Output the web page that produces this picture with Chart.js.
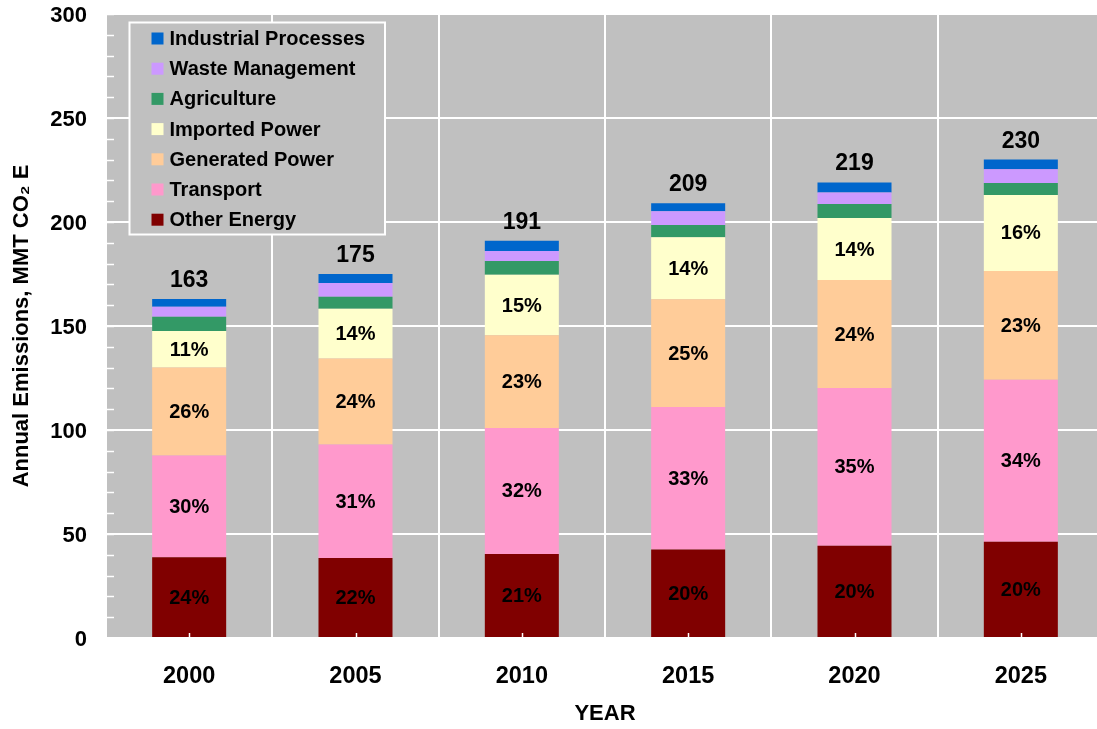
<!DOCTYPE html>
<html>
<head>
<meta charset="utf-8">
<title>Annual Emissions</title>
<script src="https://cdn.jsdelivr.net/npm/chart.js@4.4.1/dist/chart.umd.min.js"></script>
<style>
  html, body { margin: 0; padding: 0; background: #fff; overflow: hidden; }
  #wrap { width: 1104px; height: 729px; position: relative; }
</style>
</head>
<body>
<div id="wrap"><canvas id="chart"></canvas></div>
<script>
// Data (MMT CO2 E)
const years = ['2000', '2005', '2010', '2015', '2020', '2025'];
const otherEnergy         = [38.8, 38.5, 40.4, 42.5, 44.3, 46.3];
const transport           = [49.0, 54.5, 60.6, 68.5, 75.9, 77.8];
const generatedPower      = [42.2, 41.4, 44.5, 51.9, 51.9, 52.4];
const importedPower       = [17.6, 23.9, 29.1, 29.8, 29.8, 36.5];
const agriculture         = [6.8, 5.8, 6.7, 5.8, 6.7, 5.8];
const wasteManagement     = [4.8, 6.6, 4.8, 6.7, 5.6, 6.6];
const industrialProcesses = [3.8, 4.3, 4.9, 3.8, 4.8, 4.6];

const seriesNames  = ['Other Energy', 'Transport', 'Generated Power', 'Imported Power',
                      'Agriculture', 'Waste Management', 'Industrial Processes'];
const seriesValues = [otherEnergy, transport, generatedPower, importedPower,
                      agriculture, wasteManagement, industrialProcesses];
const seriesColors = ['#800000', '#FF99CC', '#FFCC99', '#FFFFCC', '#339966', '#CC99FF', '#0066CC'];

// only the four biggest sectors carry a percent label
const pctSeriesCount = 4;

const FONT = '"Liberation Sans", Arial, Helvetica, sans-serif';
Chart.defaults.font.family = FONT;
Chart.defaults.color = '#000';

const totals = years.map((_, i) => seriesValues.reduce((s, arr) => s + arr[i], 0));

// gray plot background
const plotBackground = {
    id: 'plotBackground',
    beforeDraw(chart) {
        const { ctx, chartArea: a } = chart;
        ctx.save();
        ctx.fillStyle = '#C0C0C0';
        ctx.fillRect(a.left, a.top, a.right - a.left, a.bottom - a.top);
        ctx.restore();
    }
};

// minor ticks, percent labels and totals
const barDecorations = {
    id: 'barDecorations',
    afterDatasetsDraw(chart) {
        const { ctx, chartArea: a } = chart;
        const yScale = chart.scales.y;
        const xScale = chart.scales.x;
        ctx.save();
        ctx.strokeStyle = '#fff';
        ctx.lineWidth = 1.5;
        for (let v = 0; v <= 300; v += 10) {
            const y = Math.round(yScale.getPixelForValue(v)) + 0.5;
            ctx.beginPath();
            ctx.moveTo(a.left, y);
            ctx.lineTo(a.left + 8, y);
            ctx.stroke();
        }
        years.forEach((_, i) => {
            const x = Math.round(xScale.getPixelForValue(i)) + 0.5;
            ctx.beginPath();
            ctx.moveTo(x, a.bottom);
            ctx.lineTo(x, a.bottom - 5);
            ctx.stroke();
        });

        ctx.fillStyle = '#000';
        ctx.textAlign = 'center';
        ctx.textBaseline = 'middle';
        ctx.font = 'bold 20px ' + FONT;
        for (let d = 0; d < pctSeriesCount; d++) {
            const meta = chart.getDatasetMeta(d);
            meta.data.forEach((bar, i) => {
                const pct = Math.round(seriesValues[d][i] / totals[i] * 100);
                ctx.fillText(pct + '%', bar.x, (bar.y + bar.base) / 2 + 1);
            });
        }

        ctx.textBaseline = 'alphabetic';
        ctx.font = 'bold 23px ' + FONT;
        const topMeta = chart.getDatasetMeta(seriesValues.length - 1);
        topMeta.data.forEach((bar, i) => {
            ctx.fillText(String(Math.round(totals[i])), bar.x, bar.y - 12);
        });
        ctx.restore();
    }
};

// legend box inside the plot, top-left
const boxLegend = {
    id: 'boxLegend',
    afterDraw(chart) {
        const { ctx, chartArea: a } = chart;
        const left = a.left + 23.5, top = a.top + 8.5;
        const w = 255.5, h = 212;
        ctx.save();
        ctx.fillStyle = '#C0C0C0';
        ctx.fillRect(left, top, w, h);
        ctx.strokeStyle = '#fff';
        ctx.lineWidth = 2;
        ctx.strokeRect(left, top, w, h);
        ctx.font = 'bold 20px ' + FONT;
        ctx.textAlign = 'left';
        ctx.textBaseline = 'middle';
        const order = chart.data.datasets.map((ds, i) => i).reverse();
        order.forEach((di, row) => {
            const ds = chart.data.datasets[di];
            const cy = top + 16 + row * 30.2;
            ctx.fillStyle = ds.backgroundColor;
            ctx.fillRect(left + 22, cy - 6, 12, 12);
            ctx.fillStyle = '#000';
            ctx.fillText(ds.label, left + 40, cy + 1);
        });
        ctx.restore();
    }
};

new Chart(document.getElementById('chart'), {
    type: 'bar',
    data: {
        labels: years,
        datasets: seriesNames.map((name, i) => ({
            label: name,
            data: seriesValues[i],
            backgroundColor: seriesColors[i],
            borderWidth: 0,
            barPercentage: 0.445,
            categoryPercentage: 1.0
        }))
    },
    options: {
        responsive: true,
        maintainAspectRatio: false,
        animation: false,
        layout: { padding: { top: 14, right: 0, bottom: 0, left: 0 } },
        plugins: {
            legend: { display: false },
            tooltip: { enabled: false }
        },
        scales: {
            x: {
                stacked: true,
                grid: { color: '#fff', lineWidth: 2, offset: true, drawTicks: false },
                border: { display: false },
                ticks: { font: { size: 23.5, weight: 'bold' }, color: '#000', padding: 24 },
                title: {
                    display: true, text: 'YEAR', color: '#000',
                    font: { size: 22, weight: 'bold' }, padding: { top: 0, bottom: 2 }
                },
                afterFit(scale) {
                    scale.height = 91;
                    scale.paddingLeft = 0;
                    scale.paddingRight = 0;
                }
            },
            y: {
                stacked: true,
                min: 0, max: 300,
                grid: { color: '#fff', lineWidth: 2, drawTicks: false },
                border: { display: false },
                ticks: {
                    stepSize: 50, font: { size: 22, weight: 'bold' }, color: '#000',
                    padding: 19, labelOffset: 2
                },
                title: {
                    display: true, text: 'Annual Emissions, MMT CO\u2082 E', color: '#000',
                    font: { size: 22, weight: 'bold' }, padding: { top: 9, bottom: 0 }
                },
                afterFit(scale) {
                    scale.width = 106;
                    scale.paddingTop = 0;
                    scale.paddingBottom = 0;
                }
            }
        }
    },
    plugins: [plotBackground, barDecorations, boxLegend]
});
</script>
</body>
</html>
